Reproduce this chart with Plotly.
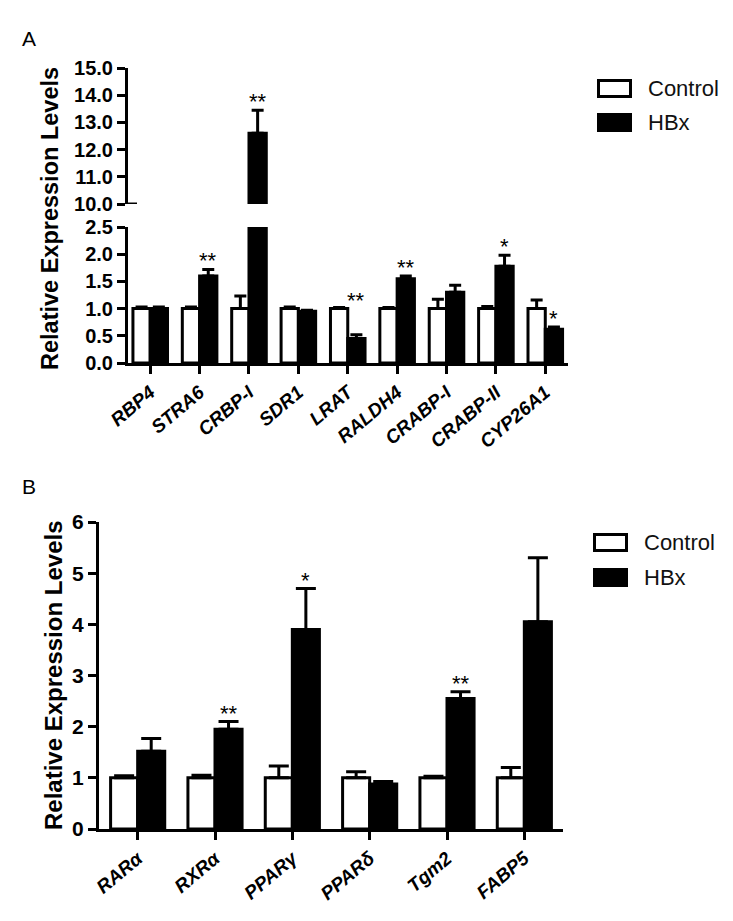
import plotly.graph_objects as go

W, H = 733, 921

# ---------------- data ----------------
series_names = ["Control", "HBx"]

genes_a = ["RBP4", "STRA6", "CRBP-I", "SDR1", "LRAT", "RALDH4", "CRABP-I", "CRABP-II", "CYP26A1"]
ctrl_a = [1.0, 1.0, 1.0, 1.0, 1.0, 1.0, 1.0, 1.0, 1.0]
ctrl_a_err = [0.03, 0.03, 0.23, 0.03, 0.02, 0.02, 0.17, 0.04, 0.16]
hbx_a = [1.0, 1.6, 12.6, 0.95, 0.45, 1.55, 1.3, 1.78, 0.62]
hbx_a_err = [0.03, 0.12, 0.85, 0.02, 0.07, 0.05, 0.13, 0.2, 0.04]
sig_a = ["", "**", "**", "", "**", "**", "", "*", "*"]

genes_b = ["RARα", "RXRα", "PPARγ", "PPARδ", "Tgm2", "FABP5"]
ctrl_b = [1.0, 1.0, 1.0, 1.0, 1.0, 1.0]
ctrl_b_err = [0.04, 0.05, 0.23, 0.12, 0.03, 0.2]
hbx_b = [1.52, 1.95, 3.9, 0.88, 2.55, 4.05]
hbx_b_err = [0.25, 0.15, 0.8, 0.05, 0.13, 1.25]
sig_b = ["", "**", "*", "", "**", ""]

ticks_a_low = [0.0, 0.5, 1.0, 1.5, 2.0, 2.5]
ticks_a_high = [10.0, 11.0, 12.0, 13.0, 14.0, 15.0]
ticks_b = [0, 1, 2, 3, 4, 5, 6]

# ---------------- layout helpers ----------------
OFF = 8  # page body margin

def px_x(p):
    return (p - OFF) / W

def px_y(p):
    return 1 - (p - OFF) / H

FONT = "Liberation Sans, Arial, sans-serif"
BARGAP = 0.3
LW = 3

fig = go.Figure()

def add_bars(x, vals, errs, name, fill, xa, ya, capw):
    fig.add_trace(go.Bar(
        x=x, y=vals, name=name, xaxis=xa, yaxis=ya,
        marker=dict(color=fill, line=dict(color="black", width=LW)),
        error_y=dict(type="data", array=errs, arrayminus=[0] * len(errs),
                     symmetric=False, color="black", thickness=LW, width=capw),
        showlegend=False,
    ))

xa_idx = list(range(len(genes_a)))
xb_idx = list(range(len(genes_b)))

for ya in ["y", "y2"]:
    add_bars(xa_idx, ctrl_a, ctrl_a_err, series_names[0], "white", "x", ya, 6)
    add_bars(xa_idx, hbx_a, hbx_a_err, series_names[1], "black", "x", ya, 6)
add_bars(xb_idx, ctrl_b, ctrl_b_err, series_names[0], "white", "x2", "y3", 10)
add_bars(xb_idx, hbx_b, hbx_b_err, series_names[1], "black", "x2", "y3", 10)

axis_common = dict(showline=True, linecolor="black", linewidth=LW, ticks="outside",
                   ticklen=8, tickwidth=LW, tickcolor="black", showgrid=False,
                   zeroline=False, automargin=False)
ytickfont = dict(family=FONT, size=20, color="black", weight="bold")
xtickfont = dict(family=FONT, size=19, color="black", weight="bold", style="italic")

fig.update_layout(
    template="none",
    width=W, height=H,
    margin=dict(l=0, r=0, t=0, b=0, pad=0, autoexpand=False),
    paper_bgcolor="white", plot_bgcolor="white",
    showlegend=False,
    barmode="group", bargap=BARGAP, bargroupgap=0,
    xaxis=dict(domain=[px_x(128), px_x(568)], anchor="y", range=[-0.45, 8.46],
               tickvals=xa_idx, ticktext=genes_a, tickangle=-40, tickfont=xtickfont,
               **axis_common),
    yaxis=dict(domain=[px_y(363), px_y(227)], anchor="x", range=[0, 2.5],
               tickvals=ticks_a_low, ticktext=[f"{v:.1f}" for v in ticks_a_low],
               tickfont=ytickfont, **axis_common),
    yaxis2=dict(domain=[px_y(204), px_y(68)], anchor="x", range=[10, 15],
                tickvals=ticks_a_high, ticktext=[f"{v:.1f}" for v in ticks_a_high],
                tickfont=ytickfont, **axis_common),
    xaxis2=dict(domain=[px_x(99), px_x(563)], anchor="y3", range=[-0.5, 5.5],
                tickvals=xb_idx, ticktext=genes_b, tickangle=-40, tickfont=xtickfont,
                **axis_common),
    yaxis3=dict(domain=[px_y(829), px_y(522)], anchor="x2", range=[0, 6],
                tickvals=ticks_b, ticktext=[str(v) for v in ticks_b],
                tickfont=dict(family=FONT, size=21, color="black", weight="bold"),
                **axis_common),
)

ann = []
off = (1 - BARGAP) / 4  # centre of the HBx bar relative to the category


def sig_level(c, h, e):
    # marks sit above the HBx error bar, or above the control bar when HBx is much lower
    return c if h < 0.5 * c else h + e


for i, s in enumerate(sig_a):
    if s:
        top = sig_level(ctrl_a[i], hbx_a[i], hbx_a_err[i])
        ann.append(dict(x=i + off, y=top, xref="x", yref="y2" if top > 2.5 else "y",
                        text=s, showarrow=False, yanchor="bottom", yshift=-6,
                        font=dict(family=FONT, size=22, color="black")))
for i, s in enumerate(sig_b):
    if s:
        top = sig_level(ctrl_b[i], hbx_b[i], hbx_b_err[i])
        ann.append(dict(x=i + off, y=top, xref="x2", yref="y3",
                        text=s, showarrow=False, yanchor="bottom", yshift=-6,
                        font=dict(family=FONT, size=22, color="black")))

ann.append(dict(x=px_x(50), y=px_y(219), xref="paper", yref="paper", text="<b>Relative Expression Levels</b>",
                textangle=-90, showarrow=False, xanchor="center", yanchor="middle",
                font=dict(family=FONT, size=23.5, color="black")))
ann.append(dict(x=px_x(53), y=px_y(675), xref="paper", yref="paper", text="<b>Relative Expression Levels</b>",
                textangle=-90, showarrow=False, xanchor="center", yanchor="middle",
                font=dict(family=FONT, size=24, color="black")))

ann.append(dict(x=px_x(20), y=px_y(25), xref="paper", yref="paper", text="A", xanchor="left", yanchor="top",
                showarrow=False, font=dict(family=FONT, size=21, color="black")))
ann.append(dict(x=px_x(20), y=px_y(473), xref="paper", yref="paper", text="B", xanchor="left", yanchor="top",
                showarrow=False, font=dict(family=FONT, size=21, color="black")))

shapes = []
fills = ["white", "black"]
for (lx, ly_list) in [(597, [79, 113]), (593, [533, 568])]:
    for k, ly in enumerate(ly_list):
        shapes.append(dict(type="rect", xref="paper", yref="paper",
                           x0=px_x(lx + 1.5), x1=px_x(lx + 33.5), y0=px_y(ly + 1.5), y1=px_y(ly + 17.5),
                           line=dict(color="black", width=LW), fillcolor=fills[k]))
        ann.append(dict(x=px_x(lx + 49), y=px_y(ly + 9.5), xref="paper", yref="paper",
                        text=series_names[k], xanchor="left", yanchor="middle", showarrow=False,
                        font=dict(family=FONT, size=22, color="#111")))

shapes.append(dict(type="line", xref="paper", yref="y2", x0=px_x(128), x1=px_x(137), y0=10, y1=10,
                   line=dict(color="black", width=LW)))

fig.update_layout(annotations=ann, shapes=shapes)
fig.write_html("out.html")
